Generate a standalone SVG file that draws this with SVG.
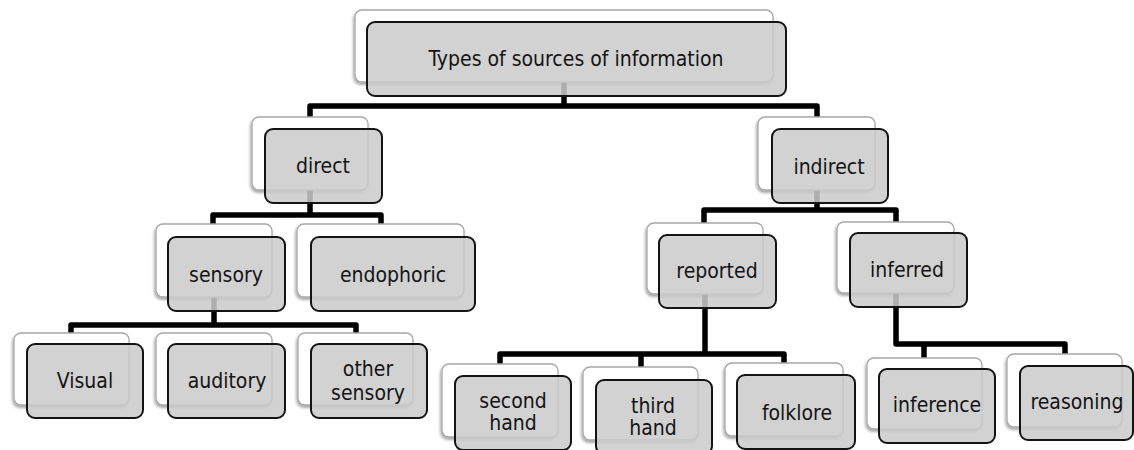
<svg xmlns="http://www.w3.org/2000/svg" width="1134" height="450" viewBox="0 0 1134 450">
  <defs>
    <filter id="cardShadow" x="-10%" y="-10%" width="120%" height="130%">
      <feDropShadow dx="-1" dy="2" stdDeviation="1.8" flood-color="#000" flood-opacity="0.38"/>
    </filter>
  </defs>
  <style>
    .back { fill: #ffffff; stroke: #a8a8a8; stroke-width: 1.3; filter: url(#cardShadow); }
    .front { fill: #cbcbcb; fill-opacity: 0.86; stroke: #141414; stroke-width: 2; }
    .label { font-family: "DejaVu Sans Condensed", "DejaVu Sans", sans-serif; font-stretch: condensed; font-size: 21px; fill: #141414; text-anchor: middle; }
    .link { fill: none; stroke: #000; stroke-width: 5.5; stroke-linejoin: round; }
  </style>
  <rect width="1134" height="450" fill="#ffffff"/>

  <!-- tree connectors, drawn beneath the cards -->
  <g id="connectors" class="link">
    <path d="M564 82 V106 M310 117 V106 H817 V117"/>
    <path d="M310 190 V215 M213 224 V215 H381 V224"/>
    <path d="M817 190 V210 M704 223 V210 H896 V222"/>
    <path d="M214 297 V325 M71 333 V325 H356 V333"/>
    <path d="M705 294 V354 M500 364 V354 H784 V363 M641 354 V367"/>
    <path d="M896 293 V344 H1065 V354 M924 344 V358"/>
  </g>

  <g id="node-root">
    <rect class="back" x="355" y="10" width="418" height="72" rx="7"/>
    <rect class="front" x="367" y="22" width="419" height="74" rx="8"/>
    <text class="label" x="576" y="66">Types of sources of information</text>
  </g>

  <g id="node-direct">
    <rect class="back" x="252" y="117" width="116" height="73" rx="7"/>
    <rect class="front" x="265" y="129" width="117" height="74" rx="8"/>
    <text class="label" x="323" y="173">direct</text>
  </g>

  <g id="node-indirect">
    <rect class="back" x="758" y="117" width="117" height="73" rx="7"/>
    <rect class="front" x="772" y="129" width="116" height="74" rx="8"/>
    <text class="label" x="829" y="174">indirect</text>
  </g>

  <g id="node-sensory">
    <rect class="back" x="156" y="224" width="116" height="73" rx="7"/>
    <rect class="front" x="168" y="237" width="117" height="74" rx="8"/>
    <text class="label" x="226" y="282">sensory</text>
  </g>

  <g id="node-endophoric">
    <rect class="back" x="297" y="224" width="167" height="73" rx="7"/>
    <rect class="front" x="311" y="237" width="164" height="74" rx="8"/>
    <text class="label" x="393" y="282">endophoric</text>
  </g>

  <g id="node-reported">
    <rect class="back" x="647" y="223" width="116" height="71" rx="7"/>
    <rect class="front" x="659" y="235" width="117" height="73" rx="8"/>
    <text class="label" x="717" y="278">reported</text>
  </g>

  <g id="node-inferred">
    <rect class="back" x="837" y="222" width="117" height="71" rx="7"/>
    <rect class="front" x="850" y="233" width="117" height="74" rx="8"/>
    <text class="label" x="907" y="277">inferred</text>
  </g>

  <g id="node-visual">
    <rect class="back" x="14" y="333" width="115" height="72" rx="7"/>
    <rect class="front" x="27" y="344" width="116" height="74" rx="8"/>
    <text class="label" x="85" y="388">Visual</text>
  </g>

  <g id="node-auditory">
    <rect class="back" x="156" y="333" width="116" height="72" rx="7"/>
    <rect class="front" x="168" y="344" width="117" height="74" rx="8"/>
    <text class="label" x="227" y="388">auditory</text>
  </g>

  <g id="node-other-sensory">
    <rect class="back" x="298" y="333" width="115" height="72" rx="7"/>
    <rect class="front" x="311" y="344" width="116" height="74" rx="8"/>
    <text class="label" x="368" y="376">other</text>
    <text class="label" x="368" y="400">sensory</text>
  </g>

  <g id="node-second-hand">
    <rect class="back" x="442" y="364" width="116" height="73" rx="7"/>
    <rect class="front" x="455" y="376" width="116" height="74" rx="8"/>
    <text class="label" x="513" y="408">second</text>
    <text class="label" x="513" y="430">hand</text>
  </g>

  <g id="node-third-hand">
    <rect class="back" x="583" y="367" width="115" height="73" rx="7"/>
    <rect class="front" x="596" y="380" width="116" height="74" rx="8"/>
    <text class="label" x="653" y="413">third</text>
    <text class="label" x="653" y="435">hand</text>
  </g>

  <g id="node-folklore">
    <rect class="back" x="725" y="363" width="118" height="73" rx="7"/>
    <rect class="front" x="737" y="375" width="118" height="74" rx="8"/>
    <text class="label" x="797" y="420">folklore</text>
  </g>

  <g id="node-inference">
    <rect class="back" x="867" y="358" width="115" height="71" rx="7"/>
    <rect class="front" x="879" y="369" width="116" height="74" rx="8"/>
    <text class="label" x="937" y="412">inference</text>
  </g>

  <g id="node-reasoning">
    <rect class="back" x="1007" y="354" width="115" height="73" rx="7"/>
    <rect class="front" x="1020" y="366" width="113" height="74" rx="8"/>
    <text class="label" x="1077" y="409">reasoning</text>
  </g>
</svg>
